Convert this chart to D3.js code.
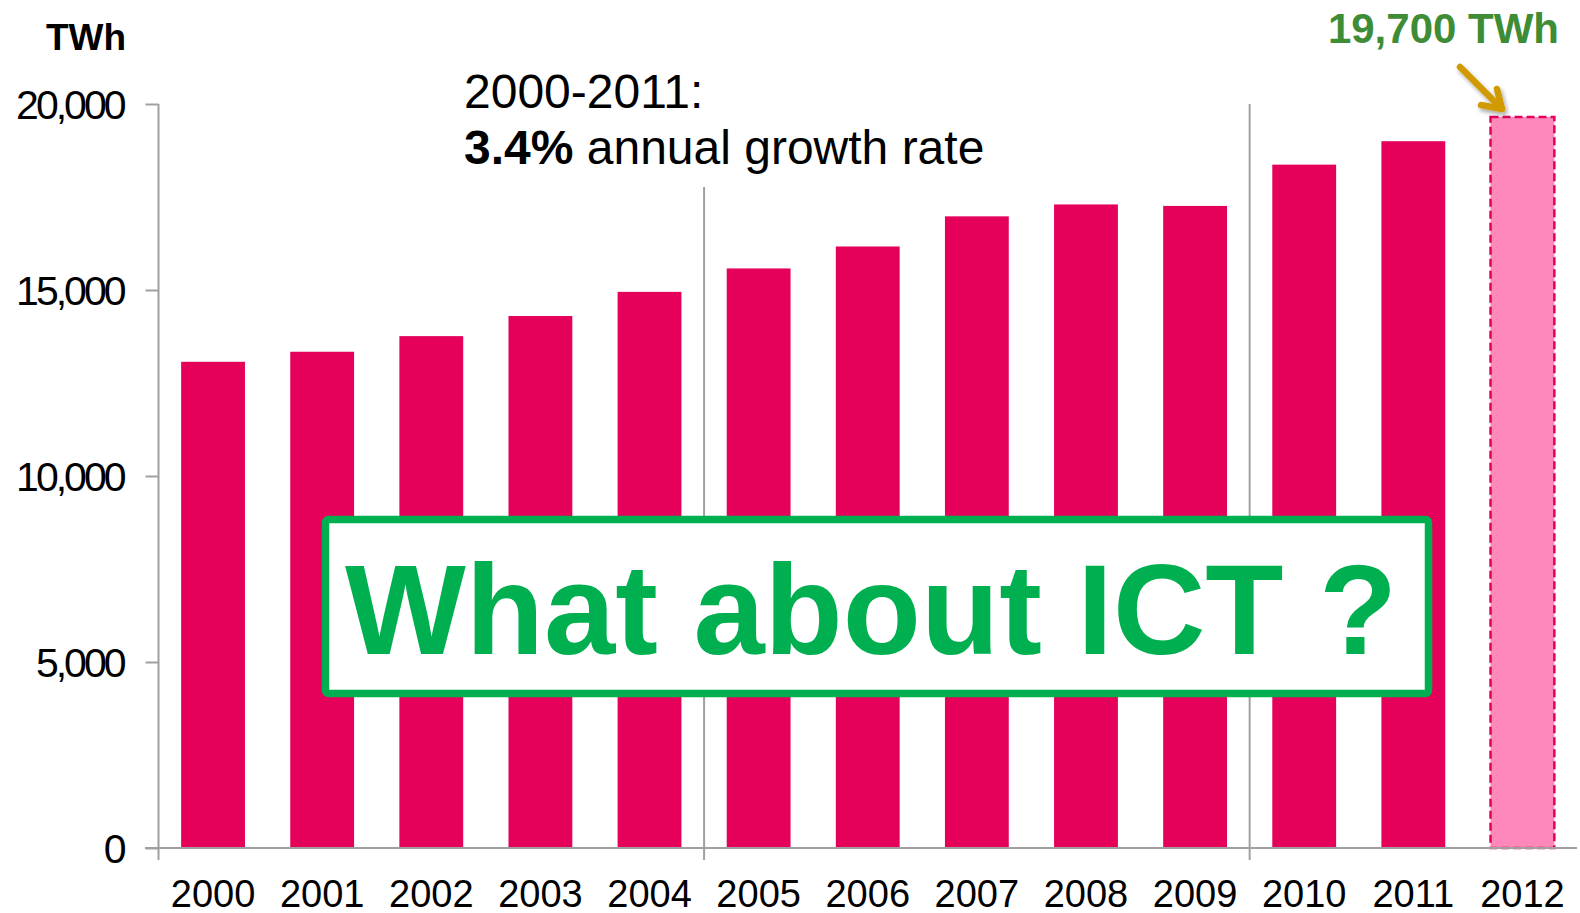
<!DOCTYPE html>
<html><head><meta charset="utf-8">
<script src="https://cdn.jsdelivr.net/npm/d3@7"></script>
<style>html,body{margin:0;padding:0;background:#fff;overflow:hidden}</style>
</head><body>
<svg id="c" width="1580" height="913"></svg>
<script>
const years = ["2000","2001","2002","2003","2004","2005","2006","2007","2008","2009","2010","2011","2012"];
const consumption = [13070,13340,13760,14300,14950,15580,16170,16980,17300,17260,18370,19000,19650];
const estimated = [false,false,false,false,false,false,false,false,false,false,false,false,true];
const yTicks = [0,5000,10000,15000,20000];
const groupBreaks = ["2005","2010"];

const svg = d3.select("#c");
const font = "Liberation Sans, Arial, sans-serif";
const axisColor = "#a0a0a0";

const x = d3.scaleBand().domain(years).range([158.5,1577]).paddingInner(0.415).paddingOuter(0.2075);
const y = d3.scaleLinear().domain([0,20000]).range([848,104]);
const step = x.step();

// y axis
const yAxis = d3.axisLeft(y).tickValues(yTicks).tickSize(13).tickPadding(0).tickFormat(d3.format(","));
const gy = svg.append("g").attr("transform","translate(158.5,0)").call(yAxis);
gy.select(".domain").remove();
gy.selectAll(".tick line").attr("stroke",axisColor).attr("stroke-width",2);
gy.selectAll(".tick text").attr("x",-35).attr("dy","0.36em")
  .attr("font-family",font).attr("font-size",41).attr("letter-spacing","-3px").attr("fill","#000");
svg.append("line").attr("x1",158.5).attr("x2",158.5).attr("y1",y(20000)).attr("y2",860)
  .attr("stroke",axisColor).attr("stroke-width",2);

// bars
svg.append("g").selectAll("rect").data(years).join("rect")
  .attr("x",d=>x(d)).attr("width",x.bandwidth())
  .attr("y",(d,i)=>y(consumption[i])).attr("height",(d,i)=>y(0)-y(consumption[i]))
  .attr("fill",(d,i)=>estimated[i]?"#ff88bb":"#e5005a")
  .attr("stroke",(d,i)=>estimated[i]?"#e5005a":"none")
  .attr("stroke-width",2.5).attr("stroke-dasharray","8,4");

// x axis line
svg.append("line").attr("x1",145).attr("x2",1577).attr("y1",y(0)).attr("y2",y(0))
  .attr("stroke",axisColor).attr("stroke-width",2);

// group separator lines
const sepTop = {"2005":187, "2010":y(20000)};
groupBreaks.forEach(g=>{
  const xx = x(g) - x.paddingInner()*step/2;
  svg.append("line").attr("x1",xx).attr("x2",xx).attr("y1",sepTop[g]).attr("y2",860)
    .attr("stroke",axisColor).attr("stroke-width",2);
});

// x labels
const xAxis = d3.axisBottom(x).tickSize(0).tickPadding(0);
const gx = svg.append("g").attr("transform","translate(0,848)").call(xAxis);
gx.select(".domain").remove();
gx.selectAll(".tick text").attr("y",59).attr("dy",0)
  .attr("font-family",font).attr("font-size",38).attr("fill","#000");

// unit label
svg.append("text").attr("x",46).attr("y",50).text("TWh")
  .attr("font-family",font).attr("font-size",37).attr("font-weight","bold").attr("fill","#000");

// growth annotation
svg.append("text").attr("x",464).attr("y",108).text("2000-2011:")
  .attr("font-family",font).attr("font-size",48).attr("fill","#000");
const t2 = svg.append("text").attr("x",464).attr("y",164)
  .attr("font-family",font).attr("font-size",48).attr("fill","#000");
t2.append("tspan").attr("font-weight","bold").text("3.4%");
t2.append("tspan").text(" annual growth rate");

// 2012 label and arrow
svg.append("text").attr("x",1559).attr("y",43).attr("text-anchor","end").text("19,700 TWh")
  .attr("font-family",font).attr("font-size",42).attr("font-weight","bold").attr("fill","#3e8c36");
const defs = svg.append("defs");
const f = defs.append("filter").attr("id","sh").attr("x","-50%").attr("y","-50%").attr("width","200%").attr("height","200%");
f.append("feDropShadow").attr("dx",2).attr("dy",3).attr("stdDeviation",2).attr("flood-color","#000").attr("flood-opacity",0.35);
const ag = svg.append("g").attr("filter","url(#sh)").attr("stroke","#d09a00").attr("stroke-width",6.5)
  .attr("fill","none").attr("stroke-linecap","round").attr("stroke-linejoin","round");
ag.append("line").attr("x1",1460).attr("y1",67).attr("x2",1501).attr("y2",108);
ag.append("polyline").attr("points","1497,89 1502,109 1481,105");

// callout box
svg.append("rect").attr("x",325.5).attr("y",519.5).attr("width",1103).attr("height",174).attr("rx",3)
  .attr("fill","#fff").attr("stroke","#00b050").attr("stroke-width",7.5);
svg.append("text").attr("x",345).attr("y",654).text("What about ICT ?")
  .attr("font-family",font).attr("font-size",128).attr("font-weight","bold").attr("fill","#00b050");
</script>
</body></html>
